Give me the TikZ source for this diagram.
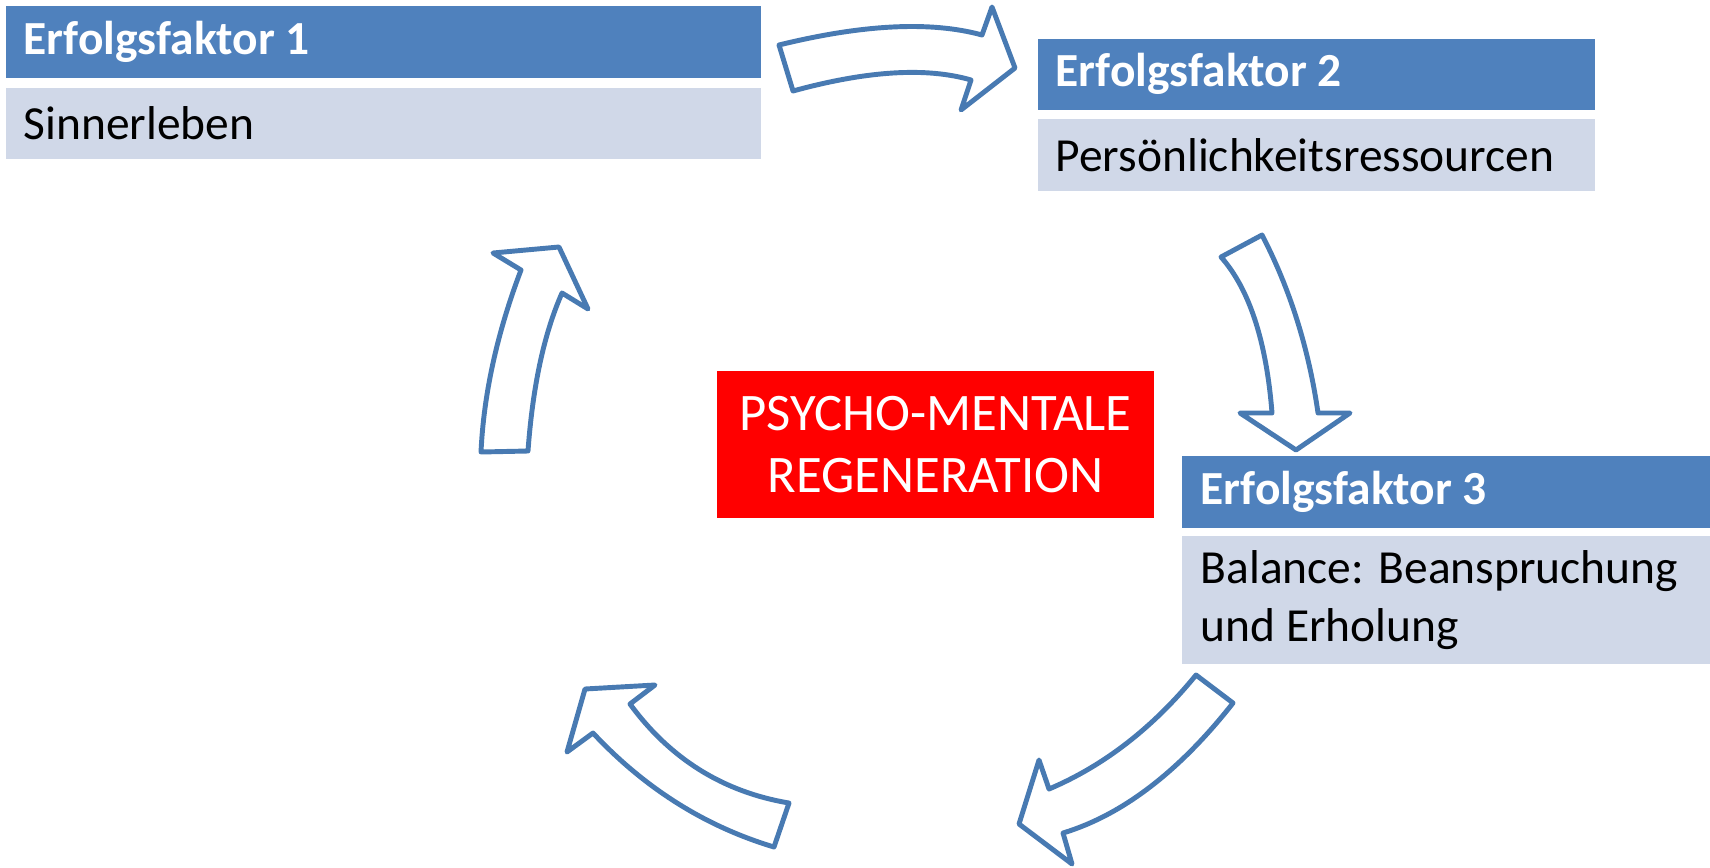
\documentclass[tikz,border=0pt]{standalone}
\usepackage{fontspec}
\setmainfont{Carlito}
\definecolor{hdrblue}{RGB}{79,129,189}
\definecolor{bodyblue}{RGB}{208,216,232}
\definecolor{arrowblue}{RGB}{72,122,178}
\tikzset{
  hdrbox/.style={fill=hdrblue, anchor=north west, inner sep=0pt},
  bodybox/.style={fill=bodyblue, anchor=north west, inner sep=0pt},
  hdrtext/.style={text=white, font=\fontsize{13.5}{16}\selectfont\bfseries,
    anchor=west, inner sep=0pt},
  bodytext/.style={text=black, font=\fontsize{13.5}{16.5}\selectfont,
    anchor=west, align=left, inner sep=0pt},
  centerbox/.style={fill=red, text=white, font=\fontsize{15}{17.5}\selectfont,
    align=center, inner sep=0pt},
  bendarrow/.style={draw=arrowblue, line width=1.4pt, fill=white, line join=round}
}
\begin{document}
\begin{tikzpicture}[x=0.01cm, y=-0.01cm]
  \useasboundingbox (0,0) rectangle (1710,867);

  % Erfolgsfaktor 1
  \node[hdrbox, minimum width=7.55cm, minimum height=0.72cm] (h1) at (5,5) {};
  \node[bodybox, minimum width=7.55cm, minimum height=0.71cm] (b1) at (5,87) {};
  \node[hdrtext] (t1) at ([xshift=0.18cm]h1.west) {Erfolgsfaktor 1};
  \node[bodytext] (s1) at ([xshift=0.18cm]b1.west) {Sinnerleben};

  % Erfolgsfaktor 2
  \node[hdrbox, minimum width=5.57cm, minimum height=0.71cm] (h2) at (1037,38) {};
  \node[bodybox, minimum width=5.57cm, minimum height=0.72cm] (b2) at (1037,118) {};
  \node[hdrtext] (t2) at ([xshift=0.18cm]h2.west) {Erfolgsfaktor 2};
  \node[bodytext] (s2) at ([xshift=0.18cm]b2.west) {Persönlichkeitsressourcen};

  % Erfolgsfaktor 3
  \node[hdrbox, minimum width=5.29cm, minimum height=0.72cm] (h3) at (1181,455) {};
  \node[bodybox, minimum width=5.29cm, minimum height=1.28cm] (b3) at (1181,535) {};
  \node[hdrtext] (t3) at ([xshift=0.19cm]h3.west) {Erfolgsfaktor 3};
  \node[bodytext] (s3) at ([xshift=0.19cm]b3.west) {Balance: Beanspruchung\\und Erholung};

  % centre
  \node[centerbox, minimum width=4.37cm, minimum height=1.47cm] (core) at (935.5,444.5) {PSYCHO-MENTALE\\REGENERATION};

  % curved block arrows around the centre
  % top: factor 1 -> factor 2
  \draw[bendarrow] (779,45) .. controls (863.3,24.3) and (931,21) .. (982,35)
    -- (992,7) -- (1015,68) -- (961,110) -- (971,80)
    .. controls (926.3,67) and (867,70.7) .. (793,91) -- cycle;
  % right: factor 2 -> factor 3
  \draw[bendarrow] (1221,257) -- (1262,235)
    .. controls (1290,289) and (1308.7,348.3) .. (1318,413)
    -- (1350,413) -- (1296,450) -- (1240,413) -- (1272,413)
    .. controls (1266.3,341) and (1249.3,289) .. cycle;
  % lower right
  \draw[bendarrow] (1196,675) -- (1233,703)
    .. controls (1179,771.7) and (1122.3,815) .. (1063,833)
    -- (1072,864) -- (1019,824) -- (1039,760) -- (1049,789)
    .. controls (1104,765.7) and (1153,727.7) .. cycle;
  % lower left
  \draw[bendarrow] (789,803) -- (774,847)
    .. controls (705,826.3) and (644.7,788.3) .. (593,733)
    -- (567,752) -- (585,689) -- (655,685) -- (630,704)
    .. controls (670.3,759) and (723.3,792) .. cycle;
  % left: back up to factor 1
  \draw[bendarrow] (481,452) -- (528,451)
    .. controls (532.7,386.3) and (544,333.7) .. (562,293)
    -- (588,309) -- (559,247) -- (493,253) -- (521,270)
    .. controls (497,333.3) and (483.7,394) .. cycle;
\end{tikzpicture}
\end{document}
